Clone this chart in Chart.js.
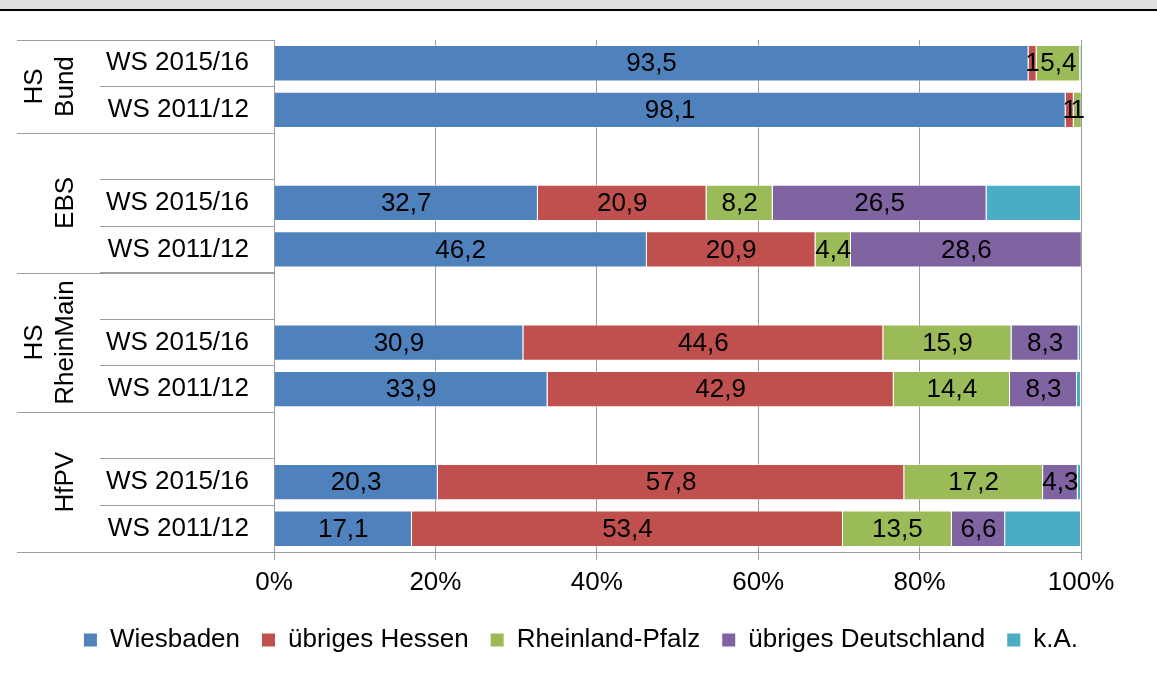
<!DOCTYPE html>
<html>
<head>
<meta charset="utf-8">
<script src="https://cdn.jsdelivr.net/npm/chart.js@4.4.0/dist/chart.umd.min.js"></script>
<style>
  body { margin: 0; background: #fff; }
  canvas { display: block; }
</style>
</head>
<body>
<canvas id="chart" width="1157" height="673"></canvas>
<script>
// rows from top to bottom, "" = empty spacer row between groups
const rowLabels = ["WS 2015/16", "WS 2011/12", "", "WS 2015/16", "WS 2011/12", "", "WS 2015/16", "WS 2011/12", "", "WS 2015/16", "WS 2011/12"];
const groups = [
  { lines: ["HS", "Bund"], from: 0, to: 1 },
  { lines: ["EBS"], from: 2, to: 4 },
  { lines: ["HS", "RheinMain"], from: 5, to: 7 },
  { lines: ["HfPV"], from: 8, to: 10 },
];

const wiesbaden   = [93.5, 98.1, null, 32.7, 46.2, null, 30.9, 33.9, null, 20.3, 17.1];
const hessen      = [1,    1,    null, 20.9, 20.9, null, 44.6, 42.9, null, 57.8, 53.4];
const rlp         = [5.4,  1,    null, 8.2,  4.4,  null, 15.9, 14.4, null, 17.2, 13.5];
const deutschland = [0,    0,    null, 26.5, 28.6, null, 8.3,  8.3,  null, 4.3,  6.6];
const ka          = [0.1,  0,    null, 11.7, 0,    null, 0.3,  0.5,  null, 0.4,  9.4];

const seriesNames = ["Wiesbaden", "übriges Hessen", "Rheinland-Pfalz", "übriges Deutschland", "k.A."];
const seriesColors = ["#4F81BD", "#C0504D", "#9BBB59", "#8064A2", "#4BACC6"];
const xTicks = [0, 20, 40, 60, 80, 100];

const FONT = "'Liberation Sans', Arial, sans-serif";
const FSIZE = 26;
const GRID = "#9d9d9d";

Chart.defaults.font.family = FONT;
Chart.defaults.font.size = FSIZE;
Chart.defaults.color = "#000";

function fmt(v) {
  return Number.isInteger(v) ? String(v) : v.toFixed(1).replace(".", ",");
}

const frame = {
  id: "frame",
  beforeDraw(chart) {
    const ctx = chart.ctx;
    ctx.save();
    ctx.fillStyle = "#e0e0e0";
    ctx.fillRect(0, 0, chart.width, 9);
    ctx.fillStyle = "#000";
    ctx.fillRect(0, 9, chart.width, 2);
    ctx.restore();
  },
  afterDraw(chart) {
    const ctx = chart.ctx;
    const y = chart.scales.y;
    ctx.save();
    // long separators between the groups
    ctx.strokeStyle = GRID;
    ctx.lineWidth = 1;
    const edges = [groups[0].from - 0.5].concat(groups.map((g) => g.to + 0.5));
    edges.forEach((e) => {
      const py = Math.round(y.getPixelForValue(e)) + 0.5;
      ctx.beginPath();
      ctx.moveTo(17, py);
      ctx.lineTo(y.right, py);
      ctx.stroke();
    });
    // rotated group names
    ctx.fillStyle = "#000";
    ctx.font = FSIZE + "px " + FONT;
    ctx.textAlign = "center";
    ctx.textBaseline = "alphabetic";
    groups.forEach((g) => {
      const cy = (y.getPixelForValue(g.from - 0.5) + y.getPixelForValue(g.to + 0.5)) / 2;
      const n = g.lines.length;
      g.lines.forEach((line, i) => {
        const bx = 73 - (n - 1 - i) * 31;
        ctx.save();
        ctx.translate(bx, cy);
        ctx.rotate(-Math.PI / 2);
        ctx.fillText(line, 0, 0);
        ctx.restore();
      });
    });
    ctx.restore();
  },
};

const barLabels = {
  id: "barLabels",
  afterDatasetsDraw(chart) {
    const ctx = chart.ctx;
    ctx.save();
    ctx.fillStyle = "#000";
    ctx.font = FSIZE + "px " + FONT;
    ctx.textAlign = "center";
    ctx.textBaseline = "middle";
    chart.data.datasets.forEach((ds, di) => {
      if (di === 4) return; // k.A. has no labels
      const meta = chart.getDatasetMeta(di);
      meta.data.forEach((bar, i) => {
        const v = ds.data[i];
        if (!v) return;
        ctx.fillText(fmt(v), (bar.x + bar.base) / 2, bar.y + 1);
      });
    });
    ctx.restore();
  },
};

const allSeries = [wiesbaden, hessen, rlp, deutschland, ka];

new Chart(document.getElementById("chart"), {
  type: "bar",
  data: {
    labels: rowLabels,
    datasets: allSeries.map((data, i) => ({
      label: seriesNames[i],
      data: data,
      backgroundColor: seriesColors[i],
      borderColor: "rgba(255,255,255,0.55)",
      borderWidth: 1,
      categoryPercentage: 1,
      barPercentage: 0.78,
    })),
  },
  options: {
    indexAxis: "y",
    responsive: false,
    animation: false,
    devicePixelRatio: 1,
    layout: { padding: { left: 5, top: 40, right: 0, bottom: 10 } },
    scales: {
      x: {
        stacked: true,
        min: 0,
        max: 100,
        afterBuildTicks: (scale) => {
          scale.ticks = xTicks.map((v) => ({ value: v }));
        },
        ticks: { callback: (v) => v + "%", padding: 7, maxRotation: 0 },
        grid: { color: GRID, tickLength: 8 },
        border: { color: GRID },
        afterFit: (scale) => {
          scale.height = 53;
        },
      },
      y: {
        stacked: true,
        offset: true,
        // long tick marks form the row separators; labels end 25px left of the axis
        ticks: { crossAlign: "near", autoSkip: false, padding: -149 },
        grid: { drawOnChartArea: false, tickLength: 174, color: GRID, offset: true },
        border: { color: GRID },
        afterFit: (scale) => {
          scale.width = 269;
        },
      },
      // empty spacer on the right side of the plot
      right: {
        type: "linear",
        position: "right",
        grid: { display: false },
        border: { display: false },
        ticks: { display: false },
        afterFit: (scale) => {
          scale.width = 76;
        },
      },
    },
    plugins: {
      tooltip: { enabled: false },
      legend: {
        position: "bottom",
        labels: {
          boxWidth: 13,
          boxHeight: 13,
          padding: 22,
          generateLabels: (chart) =>
            Chart.defaults.plugins.legend.labels
              .generateLabels(chart)
              .map((l) => ({ ...l, lineWidth: 0 })),
        },
      },
    },
  },
  plugins: [frame, barLabels],
});
</script>
</body>
</html>
